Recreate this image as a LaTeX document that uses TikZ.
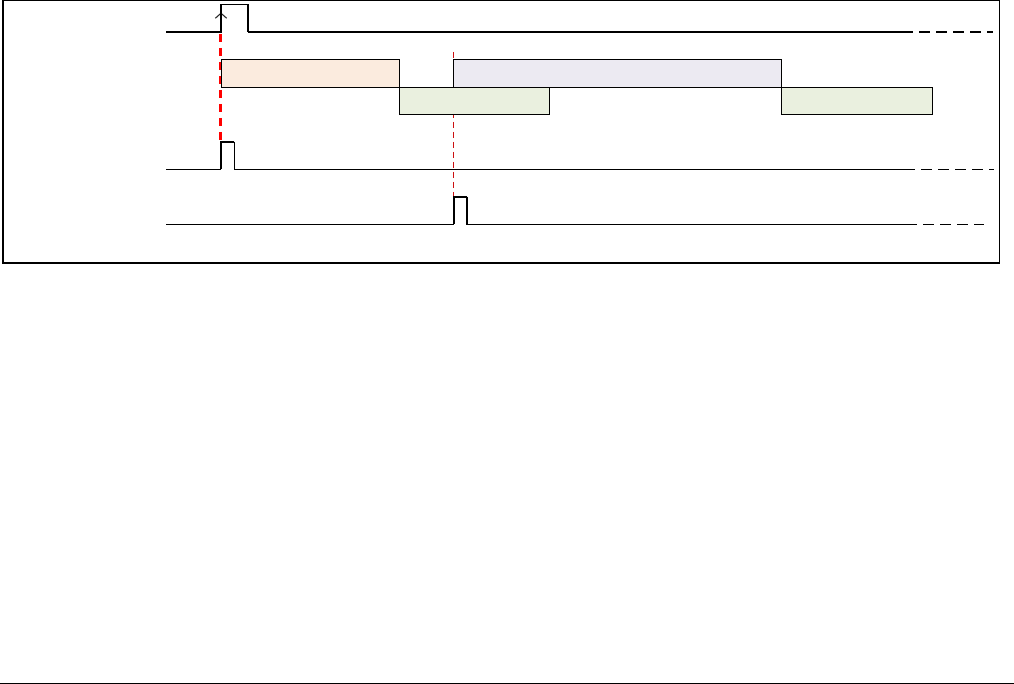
\documentclass[tikz,border=0pt]{standalone}
\usetikzlibrary{arrows.meta}
\definecolor{phaseA}{RGB}{251,235,222}
\definecolor{phaseB}{RGB}{234,240,223}
\definecolor{phaseC}{RGB}{236,234,242}
\definecolor{trigred}{RGB}{255,0,0}
\definecolor{syncred}{RGB}{204,16,16}
\begin{document}
\begin{tikzpicture}[x=0.75pt, y=-0.75pt,
  wave/.style={line width=0.8pt},
  wavebold/.style={line width=1.25pt},
  contd/.style={dash pattern=on 8.2pt off 4.6pt},
  phasebox/.style={draw, line width=0.8pt},
  trig/.style={trigred, line width=1.6pt, dash pattern=on 6pt off 4.5pt},
  sync/.style={syncred, line width=0.7pt, dash pattern=on 4.5pt off 3pt},
  tick/.style={-{Straight Barb[length=3.8pt,width=8.5pt]}, black!85, line width=0.8pt}
]
\useasboundingbox (0,0) rectangle (1014,684);
% frame and page rule
\draw[line width=0.8pt] (3,0.7) rectangle (999.3,263);
\draw[line width=1pt] (0,683.3) -- (1014,683.3);

% time markers
\coordinate (t0top) at (220.5,34);
\coordinate (t0bot) at (220.5,141);
\coordinate (t1top) at (453.7,52);
\coordinate (t1bot) at (453.7,196);
\draw[trig] (t0top) -- (t0bot);
\draw[sync] (t1top) -- (t1bot);

% phases
\draw[phasebox, fill=phaseA] (221.5,59.3) rectangle (399.3,87.3);
\draw[phasebox, fill=phaseB] (399.3,87.3) rectangle (549.3,114.3);
\draw[phasebox, fill=phaseC] (453.7,59.3) rectangle (781.3,87.3);
\draw[phasebox, fill=phaseB] (781.3,87.3) rectangle (932.7,114.3);

% trigger input
\draw[tick] (221,20) -- (221,12.5);
\draw[wavebold] (166,32) -- (221,32) -- (221,4.3);
\draw[wave] (221,4.3) -- (248,4.3) -- (248,32);
\draw[wavebold] (248,32) -- (913,32);
\draw[wavebold, contd] (919,32) -- (993,32);

% first output pulse
\draw[wave] (166,169.3) -- (221,169.3);
\draw[wavebold] (221,169.3) -- (221,141.7) -- (234.3,141.7);
\draw[wave] (234.3,141.7) -- (234.3,169.3) -- (915,169.3);
\draw[wave, contd] (921,169.3) -- (994,169.3);

% second output pulse
\draw[wave] (166,224.3) -- (453.7,224.3);
\draw[wavebold] (453.7,224.3) -- (453.7,196.7) -- (467,196.7);
\draw[wave] (467,196.7) -- (467,224.3) -- (917,224.3);
\draw[wave, contd] (923,224.3) -- (984,224.3);
\end{tikzpicture}
\end{document}
